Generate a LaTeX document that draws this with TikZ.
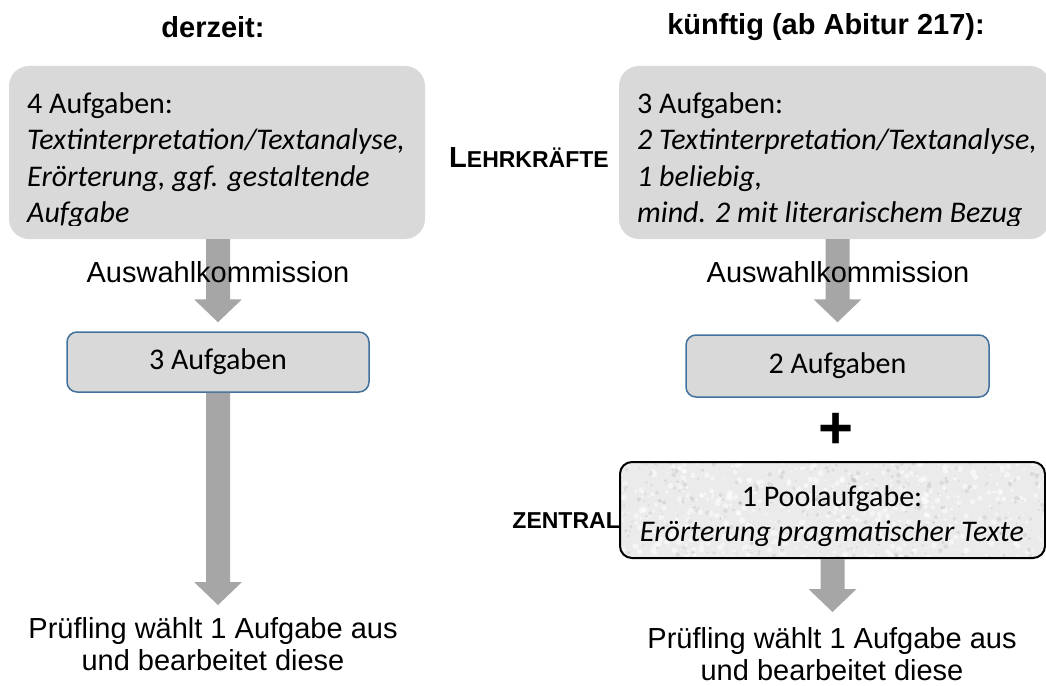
\documentclass[tikz,border=0pt]{standalone}
\usepackage{fontspec}
\setmainfont{Carlito}
\newfontfamily\arial{Liberation Sans}
\usetikzlibrary{calc}
\definecolor{boxgray}{HTML}{D9D9D9}
\definecolor{arrowgray}{HTML}{A6A6A6}
\definecolor{boxblue}{HTML}{41719C}
\definecolor{poolgray}{HTML}{EBEBEB}
\newcommand\fatarrow[2]{%
  \fill[arrowgray] let \p1=#1, \p2=#2 in
  (\x1-12pt,\y1) -- (\x1+12pt,\y1) -- (\x1+12pt,\y2+23pt) -- (\x1+24pt,\y2+23pt)
  -- (\x1,\y2) -- (\x1-24pt,\y2+23pt) -- (\x1-12pt,\y2+23pt) -- cycle;}
\tikzset{
  bigbox/.style={fill=boxgray, draw=none, rounded corners=20pt, inner sep=0},
  midbox/.style={fill=boxgray, draw=boxblue, line width=1.5pt, rounded corners=10pt, inner sep=0,
     font=\fontsize{30}{30}\selectfont},
  boxline/.style={anchor=base west, inner sep=0, font=\fontsize{30}{30}\selectfont},
  head/.style={inner sep=0, font=\arial\bfseries\fontsize{29}{29}\selectfont},
  kom/.style={inner sep=0, font=\arial\fontsize{29}{29}\selectfont},
  bottomtxt/.style={inner sep=0, align=center, font=\arial\fontsize{29}{32}\selectfont},
  sidelabel/.style={inner sep=0, font=\arial\bfseries},
}
\begin{document}
\begin{tikzpicture}[x=1pt,y=-1pt]
\useasboundingbox (0,0) rectangle (1046,685);
% headings
\node[head] (h1) at (213,27) {derzeit:};
\node[head] (h2) at (826,27) {künftig (ab Abitur 217):};
% top boxes
\node[bigbox, minimum width=416pt, minimum height=173pt] (top1) at (217,152.5) {};
\node[bigbox, minimum width=431pt, minimum height=173pt] (top2) at (834.5,152.5) {};
\begin{scope}
  \clip (0,60) rectangle (1046,225);
  \node[boxline] (l1a) at (27,113) {4 Aufgaben:};
  \node[boxline] (l1b) at (27,149.5) {\itshape Textinterpretation/Textanalyse,};
  \node[boxline] (l1c) at (27,186) {\itshape Erörterung, ggf. gestaltende};
  \node[boxline] (l1d) at (27,222.5) {\itshape Aufgabe};
  \node[boxline] (l2a) at (637,113) {3 Aufgaben:};
  \node[boxline] (l2b) at (637,149.5) {\itshape 2 Textinterpretation/Textanalyse,};
  \node[boxline] (l2c) at (637,186) {\itshape 1 beliebig,};
  \node[boxline] (l2d) at (637,222.5) {\itshape mind. 2 mit literarischem Bezug};
\end{scope}
\node[sidelabel, anchor=base west] (lehr) at (449,167)
  {{\fontsize{29}{29}\selectfont L}{\fontsize{23}{23}\selectfont EHRKRÄFTE}};
% middle boxes
\node[midbox, minimum width=302pt, minimum height=60pt] (mid1) at (218,362) {3 Aufgaben};
\node[midbox, minimum width=303pt, minimum height=62pt] (mid2) at (837.5,366) {2 Aufgaben};
% arrows top -> middle
\fatarrow{(top1.south -| mid1.north)}{($(mid1.north)+(0,-9)$)}
\fatarrow{(top2.south -| mid2.north)}{($(mid2.north)+(0,-12)$)}
\node[kom] (k1) at (218,272) {Auswahlkommission};
\node[kom] (k2) at (838,272) {Auswahlkommission};
% plus
\node[inner sep=0, font=\arial\bfseries\fontsize{60}{60}\selectfont] (plus) at (836,431) {+};
% pool box with texture
\begin{scope}
  \clip[rounded corners=12pt] (620,462) rectangle (1045,558);
  \fill[poolgray] (620,462) rectangle (1045,558);
  \pgfmathsetseed{7}
  \foreach \i in {1,...,500}{
    \pgfmathsetmacro\rx{620+425*rnd}
    \pgfmathsetmacro\ry{462+96*rnd}
    \pgfmathsetmacro\rr{0.8+2.4*rnd}
    \fill[white, opacity=0.55] (\rx,\ry) circle (\rr pt);
  }
  \foreach \i in {1,...,350}{
    \pgfmathsetmacro\rx{620+425*rnd}
    \pgfmathsetmacro\ry{462+96*rnd}
    \pgfmathsetmacro\rr{0.6+1.8*rnd}
    \fill[black, opacity=0.07] (\rx,\ry) circle (\rr pt);
  }
\end{scope}
\node[draw=black, line width=2pt, rounded corners=12pt, minimum width=425pt, minimum height=96pt, inner sep=0] (pool) at (832.5,510) {};
\node[inner sep=0, align=center, font=\fontsize{30}{35}\selectfont] (pooltxt) at (832,516)
  {1 Poolaufgabe:\\\itshape Erörterung pragmatischer Texte};
\node[sidelabel, anchor=base east, font=\arial\bfseries\fontsize{23}{23}\selectfont] (zen) at (620,528) {ZENTRAL};
% lower arrows
\coordinate (tipL) at (218,605);
\coordinate (tipR) at (832,612);
\fatarrow{(mid1.south)}{(tipL)}
\fatarrow{(pool.south)}{(tipR)}
% bottom texts
\node[bottomtxt] (b1) at (213,644) {Prüfling wählt 1 Aufgabe aus\\und bearbeitet diese};
\node[bottomtxt] (b2) at (832,654) {Prüfling wählt 1 Aufgabe aus\\und bearbeitet diese};
\end{tikzpicture}
\end{document}
